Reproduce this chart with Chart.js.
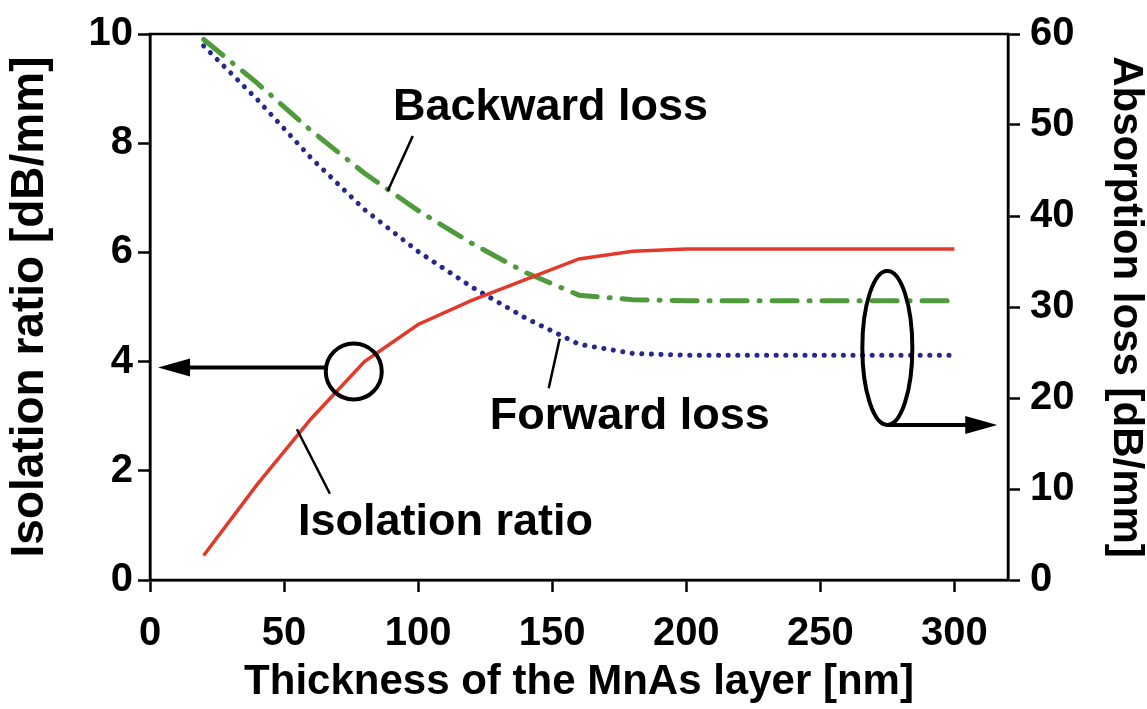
<!DOCTYPE html>
<html lang="en">
<head>
<meta charset="UTF-8">
<title>Isolation ratio and absorption loss vs MnAs thickness</title>
<script src="https://cdn.jsdelivr.net/npm/chart.js@4.4.1/dist/chart.umd.min.js"></script>
<style>
    * { margin: 0; padding: 0; box-sizing: border-box; }
    body { background: #fff; width: 1147px; height: 709px; overflow: hidden; }
    canvas { display: block; }
</style>
</head>
<body>
<canvas id="chart" width="1147" height="709"></canvas>
<script>
// data
const thickness      = [20, 40, 60, 80, 100, 120, 140, 160, 180, 200, 220, 240, 260, 280, 300];
const isolationRatio = [0.45, 1.75, 2.95, 4.0, 4.68, 5.12, 5.5, 5.88, 6.02, 6.06, 6.06, 6.06, 6.06, 6.06, 6.06];
const backwardLoss   = [59.4, 54.6, 49.4, 44.7, 40.6, 37.0, 33.8, 31.3, 30.8, 30.7, 30.7, 30.7, 30.7, 30.7, 30.7];
const forwardLoss    = [58.7, 52.8, 46.4, 40.7, 36.1, 32.2, 28.8, 25.9, 24.9, 24.7, 24.7, 24.7, 24.7, 24.7, 24.7];

const xTicks     = [0, 50, 100, 150, 200, 250, 300];
const leftTicks  = [0, 2, 4, 6, 8, 10];
const rightTicks = [0, 10, 20, 30, 40, 50, 60];

const FONT = "'Liberation Sans', Arial, Helvetica, sans-serif";

const toPoints = ys => thickness.map((x, i) => ({ x: x, y: ys[i] }));

// annotation overlay: labels, leader lines, circle/ellipse with arrows
const annotations = {
    id: 'annotations',
    afterDatasetsDraw(chart) {
        const { ctx, chartArea: a, scales } = chart;
        const X = v => scales.x.getPixelForValue(v);
        const L = v => scales.y.getPixelForValue(v);

        ctx.save();
        // frame
        ctx.strokeStyle = '#000';
        ctx.lineWidth = 2.5;
        ctx.strokeRect(a.left, a.top, a.right - a.left, a.bottom - a.top);

        // text labels
        ctx.fillStyle = '#000';
        ctx.font = 'bold 45px ' + FONT;
        ctx.textAlign = 'left';
        ctx.textBaseline = 'alphabetic';
        ctx.fillText('Backward loss', X(90.6), L(8.42));
        ctx.fillText('Forward loss', X(126.7), L(2.76));
        ctx.fillText('Isolation ratio', X(55.2), L(0.82));

        // leader lines
        ctx.lineWidth = 2.5;
        const seg = (x1, y1, x2, y2) => {
            ctx.beginPath();
            ctx.moveTo(X(x1), L(y1));
            ctx.lineTo(X(x2), L(y2));
            ctx.stroke();
        };
        seg(98.0, 8.13, 88.7, 7.13);
        seg(152.8, 4.42, 148.7, 3.51);
        seg(54.8, 2.76, 67.1, 1.58);

        ctx.lineWidth = 4;
        // circle on isolation ratio + arrow to left axis
        const cx = X(76), cy = L(3.82), r = 28;
        ctx.beginPath();
        ctx.arc(cx, cy, r, 0, Math.PI * 2);
        ctx.stroke();
        const ay = L(3.89);
        const tipL = X(3);
        ctx.beginPath();
        ctx.moveTo(cx - r, ay);
        ctx.lineTo(tipL + 20, ay);
        ctx.stroke();
        ctx.beginPath();
        ctx.moveTo(tipL, ay);
        ctx.lineTo(tipL + 32, ay - 9);
        ctx.lineTo(tipL + 32, ay + 9);
        ctx.closePath();
        ctx.fill();

        // ellipse on the loss curves + arrow to right axis
        const ex = X(275), ey = L(4.25), rx = 25, ry = 77;
        ctx.beginPath();
        ctx.ellipse(ex, ey, rx, ry, 0, 0, Math.PI * 2);
        ctx.stroke();
        const by = ey + ry;
        const tipR = X(316);
        ctx.beginPath();
        ctx.moveTo(ex, by);
        ctx.lineTo(tipR - 20, by);
        ctx.stroke();
        ctx.beginPath();
        ctx.moveTo(tipR, by);
        ctx.lineTo(tipR - 32, by - 9);
        ctx.lineTo(tipR - 32, by + 9);
        ctx.closePath();
        ctx.fill();
        ctx.restore();
    }
};

const tickFont = { family: FONT, size: 40, weight: 'bold' };

new Chart(document.getElementById('chart'), {
    type: 'scatter',
    data: {
        datasets: [
            {
                label: 'Isolation ratio',
                data: toPoints(isolationRatio),
                yAxisID: 'y',
                showLine: true,
                borderColor: '#e2392b',
                borderWidth: 3.5,
                pointRadius: 0,
                tension: 0
            },
            {
                label: 'Backward loss',
                data: toPoints(backwardLoss),
                yAxisID: 'y2',
                showLine: true,
                borderColor: '#4f9a3b',
                borderWidth: 5,
                borderDash: [25, 12, 1, 12],
                borderCapStyle: 'round',
                pointRadius: 0,
                tension: 0
            },
            {
                label: 'Forward loss',
                data: toPoints(forwardLoss),
                yAxisID: 'y2',
                showLine: true,
                borderColor: '#26288a',
                borderWidth: 5,
                borderDash: [0.1, 9.5],
                borderCapStyle: 'round',
                pointRadius: 0,
                tension: 0
            }
        ]
    },
    options: {
        responsive: false,
        devicePixelRatio: 1,
        animation: false,
        layout: { padding: { top: 30, left: 0, right: 0, bottom: 0 } },
        plugins: {
            legend: { display: false },
            tooltip: { enabled: false }
        },
        scales: {
            x: {
                type: 'linear',
                min: 0,
                max: 320,
                afterBuildTicks: s => { s.ticks = xTicks.map(v => ({ value: v })); },
                afterFit: s => { s.height = 129; },
                grid: { drawOnChartArea: false, drawTicks: true, tickLength: 12, tickWidth: 2.5, tickColor: '#000' },
                border: { display: true, color: '#000', width: 2.5 },
                ticks: { font: tickFont, color: '#000', padding: 18, maxRotation: 0 },
                title: {
                    display: true,
                    text: 'Thickness of the MnAs layer [nm]',
                    font: { family: FONT, size: 42, weight: 'bold', lineHeight: 1.0 },
                    color: '#000',
                    padding: { top: 0, bottom: 6 }
                }
            },
            y: {
                type: 'linear',
                position: 'left',
                min: 0,
                max: 10,
                afterBuildTicks: s => { s.ticks = leftTicks.map(v => ({ value: v })); },
                afterFit: s => { s.width = 150; },
                grid: { drawOnChartArea: false, drawTicks: true, tickLength: 12, tickWidth: 2.5, tickColor: '#000' },
                border: { display: true, color: '#000', width: 2.5 },
                ticks: { font: tickFont, color: '#000', padding: 5 },
                title: {
                    display: true,
                    text: 'Isolation ratio [dB/mm]',
                    font: { family: FONT, size: 46, weight: 'bold', lineHeight: 1.0 },
                    color: '#000',
                    padding: { top: 7, bottom: 0 }
                }
            },
            y2: {
                type: 'linear',
                position: 'right',
                min: 0,
                max: 60,
                afterBuildTicks: s => { s.ticks = rightTicks.map(v => ({ value: v })); },
                afterFit: s => { s.width = 139; },
                grid: { drawOnChartArea: false, drawTicks: true, tickLength: 12, tickWidth: 2.5, tickColor: '#000' },
                border: { display: true, color: '#000', width: 2.5 },
                ticks: { font: tickFont, color: '#000', padding: 10 },
                title: {
                    display: true,
                    text: 'Absorption loss [dB/mm]',
                    font: { family: FONT, size: 42, weight: 'bold', lineHeight: 1.0 },
                    color: '#000',
                    padding: { top: 0, bottom: 0 }
                }
            }
        }
    },
    plugins: [annotations]
});
</script>
</body>
</html>
